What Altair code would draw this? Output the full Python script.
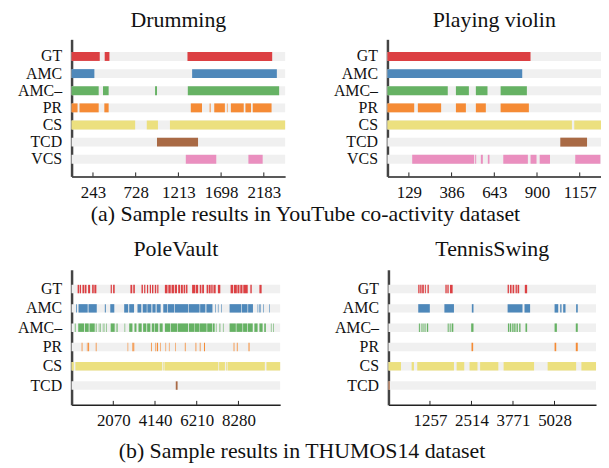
import altair as alt
import pandas as pd

FONT = "Liberation Serif"

COLORS = {"GT": "#dc4043", "AMC": "#4e88ba", "AMC–": "#66b264", "PR": "#f58b35",
          "CS": "#ece07f", "TCD": "#a96a45", "VCS": "#ea8fbf"}

# ---------------- (a) YouTube co-activity ----------------
rows_a = ["GT", "AMC", "AMC–", "PR", "CS", "TCD", "VCS"]

drum_total = 2425
drum_ticks = [243, 728, 1213, 1698, 2183]
drum_GT = [[0, 320], [376, 430], [1316, 2278]]
drum_AMC = [[0, 259], [1369, 2331]]
drum_AMCm = [[0, 308], [357, 421], [948, 970], [1320, 2357]]
drum_PR = [[0, 68], [90, 308], [372, 421], [1354, 1481], [1568, 1579], [1620, 1741],
           [1764, 1771], [1809, 1955], [1974, 2038], [2057, 2271]]
drum_CS = [[0, 722], [854, 981], [1117, 2425]]
drum_TCD = [[970, 1436]]
drum_VCS = [[1297, 1643], [2008, 2170]]

violin_total = 1285
violin_ticks = [129, 386, 643, 900, 1157]
violin_GT = [[0, 861]]
violin_AMC = [[0, 811]]
violin_AMCm = [[0, 363], [412, 490], [532, 602], [681, 839]]
violin_PR = [[0, 161], [183, 323], [412, 472], [532, 592], [681, 851]]
violin_CS = [[0, 1110], [1124, 1285]]
violin_TCD = [[1040, 1201]]
violin_VCS = [[149, 522], [528, 534], [562, 574], [604, 614], [697, 845], [861, 897],
              [916, 978], [1130, 1281]]

# ---------------- (b) THUMOS14 ----------------
rows_b = ["GT", "AMC", "AMC–", "PR", "CS", "TCD"]

pole_total = 10350
pole_ticks = [2070, 4140, 6210, 8280]
pole_GT = [[300, 380], [410, 470], [540, 620], [650, 740], [820, 920], [1020, 1100],
           [1130, 1230], [1940, 2000], [2060, 2140], [2920, 3010], [3060, 3140],
           [3470, 3540], [3600, 3660], [3740, 3800], [3880, 3940], [3990, 4060],
           [4130, 4200], [4250, 4310], [4630, 4760], [4800, 4920], [4960, 5080],
           [5120, 5230], [5290, 5380], [5420, 5520], [5560, 5640], [5680, 5750],
           [5980, 6140], [6170, 6280], [6360, 6440], [6480, 6570], [6700, 6770],
           [6800, 6900], [6930, 7000], [7040, 7150], [7260, 7380], [7890, 8020],
           [8060, 8200], [8230, 8330], [8370, 8480], [8520, 8740], [8870, 8940],
           [9320, 9430]]
pole_AMC = [[230, 270], [345, 800], [840, 1250], [1650, 1700], [1920, 2120], [2610, 2810],
            [2860, 3100], [3270, 3460], [3530, 3730], [3760, 3960], [4010, 4170],
            [4220, 4420], [4550, 4740], [4770, 5090], [5120, 5780], [5810, 6350],
            [6380, 6640], [6690, 6990], [7130, 7160], [7260, 7290], [7430, 7460],
            [7840, 8410], [8440, 8730], [8760, 9000], [9230, 9260], [9300, 9330],
            [9370, 9400], [9500, 9530], [9810, 9840]]
pole_AMCm = [[160, 200], [330, 620], [660, 850], [890, 1150], [1200, 1240], [1350, 1380],
             [1420, 1450], [1550, 1580], [1640, 1660], [1720, 1750], [1940, 2140],
             [2200, 2230], [2270, 2300], [2630, 2660], [2860, 3020], [3120, 3220],
             [3320, 3480], [3550, 3710], [3750, 3910], [3980, 4110], [4140, 4300],
             [4370, 4520], [4630, 4900], [4930, 5230], [5260, 5780], [5820, 6080],
             [6100, 6350], [6370, 6700], [6730, 6980], [7010, 7100], [7160, 7190],
             [7340, 7380], [7510, 7540], [7840, 8150], [8180, 8480], [8510, 8720],
             [8750, 8990], [9070, 9230], [9320, 9480], [9560, 9640], [9890, 9920],
             [10000, 10030]]
pole_PR = [[500, 540], [760, 790], [820, 870], [1200, 1240], [2780, 2810], [3000, 3030],
           [3060, 3110], [3940, 3980], [4160, 4200], [4240, 4290], [4400, 4430],
           [4660, 4690], [4830, 4860], [5150, 5180], [5620, 5660], [6150, 6190],
           [6360, 6400], [6570, 6620], [8040, 8080], [8200, 8240], [8780, 8830]]
pole_CS = [[0, 110], [190, 4490], [4530, 4570], [4610, 7280], [7320, 7610], [7660, 7700],
           [7740, 9590], [9670, 10350]]
pole_TCD = [[5170, 5260]]

tennis_total = 6285
tennis_ticks = [1257, 2514, 3771, 5028]
tennis_GT = [[902, 942], [962, 1002], [1022, 1072], [1103, 1133], [1183, 1223],
             [1724, 1764], [1784, 1824], [1864, 1944], [3608, 3648], [3678, 3728],
             [3758, 3808], [3848, 3888], [3908, 3958], [4129, 4199]]
tennis_AMC = [[902, 1253], [1694, 1984], [2525, 2575], [3608, 4059], [4119, 4289],
              [5030, 5140], [5200, 5240], [5290, 5361], [5682, 5732]]
tennis_AMCm = [[922, 952], [982, 1002], [1032, 1062], [1093, 1123], [1163, 1203],
               [1794, 1824], [1854, 1884], [1914, 1964], [2505, 2575], [3618, 3658],
               [3678, 3718], [3748, 3788], [3808, 3848], [3878, 3918], [3958, 3998],
               [4149, 4199], [5030, 5100], [5672, 5732]]
tennis_PR = [[2515, 2565], [5030, 5080], [5672, 5732]]
tennis_CS = [[0, 381], [702, 772], [872, 1984], [2064, 2295], [2455, 2696], [2776, 3327],
             [3487, 4409], [4820, 5682], [5842, 6285]]
tennis_TCD = [[0, 40]]

caption_a = "(a) Sample results in YouTube co-activity dataset"
caption_b = "(b) Sample results in THUMOS14 dataset"


def panel(title, rows, segs, total, ticks, w, h, extent, barsize, toff):
    recs = []
    for r, lst in zip(rows, segs):
        for s, e in lst:
            recs.append({"row": r, "start": s, "end": e})
    df = pd.DataFrame(recs)
    bg = pd.DataFrame({"row": rows, "start": [0] * len(rows), "end": [total] * len(rows)})
    tk = pd.DataFrame({"start": ticks})

    xs = alt.Scale(domain=[0, total], nice=False, zero=False)
    ys = alt.Scale(domain=rows, paddingInner=0, paddingOuter=0.5)
    xaxis = alt.Axis(values=ticks, ticks=False, grid=False, title=None, format="d",
                     labelFont=FONT, labelFontSize=17, labelColor="#111",
                     labelPadding=8, labelFlush=False,
                     domainColor="#222", domainWidth=1.5)
    yaxis = alt.Axis(ticks=False, grid=False, title=None,
                     labelFont=FONT, labelFontSize=16, labelColor="#111",
                     labelPadding=10, domainColor="#444", domainWidth=2.5,
                     minExtent=extent, maxExtent=extent)

    back = alt.Chart(bg).mark_bar(size=barsize, color="#f0f0f0").encode(
        x=alt.X("start:Q", scale=xs, axis=xaxis),
        x2="end:Q",
        y=alt.Y("row:N", sort=rows, scale=ys, axis=yaxis),
    )
    bars = alt.Chart(df).mark_bar(size=barsize).encode(
        x=alt.X("start:Q", scale=xs, axis=xaxis),
        x2="end:Q",
        y=alt.Y("row:N", sort=rows, scale=ys, axis=yaxis),
        color=alt.Color("row:N", scale=alt.Scale(domain=rows, range=[COLORS[r] for r in rows]),
                        legend=None),
    )
    tmarks = alt.Chart(tk).mark_rule(color="#222", strokeWidth=1).encode(
        x=alt.X("start:Q", scale=xs, axis=xaxis),
        y=alt.value(h), y2=alt.value(h - 4),
    )
    return alt.layer(back, bars, tmarks).properties(
        width=w, height=h,
        title=alt.TitleParams(title, font=FONT, fontSize=22, fontWeight="normal",
                              color="#111", anchor="middle", offset=toff),
    )


p1 = panel("Drumming", rows_a,
           [drum_GT, drum_AMC, drum_AMCm, drum_PR, drum_CS, drum_TCD, drum_VCS],
           drum_total, drum_ticks, 215, 138, 62, 9, 7)
p2 = panel("Playing violin", rows_a,
           [violin_GT, violin_AMC, violin_AMCm, violin_PR, violin_CS, violin_TCD, violin_VCS],
           violin_total, violin_ticks, 215, 138, 62, 9, 7)
p3 = panel("PoleVault", rows_b,
           [pole_GT, pole_AMC, pole_AMCm, pole_PR, pole_CS, pole_TCD],
           pole_total, pole_ticks, 210, 136, 64, 8.5, 9)
p4 = panel("TennisSwing", rows_b,
           [tennis_GT, tennis_AMC, tennis_AMCm, tennis_PR, tennis_CS, tennis_TCD],
           tennis_total, tennis_ticks, 209, 136, 64, 8.5, 9)

cap_style = dict(font=FONT, fontSize=22, fontWeight="normal", color="#111",
                 anchor="middle", orient="bottom")
row_a = alt.hconcat(p1, p2, spacing=41).properties(
    title=alt.TitleParams(caption_a, offset=4, **cap_style))
row_b = alt.hconcat(p3, p4, spacing=45).properties(
    title=alt.TitleParams(caption_b, offset=13, **cap_style))

chart = alt.vconcat(row_a, row_b, spacing=13).properties(padding=0).configure_view(stroke=None)

chart.save("out.html", embed_options={"renderer": "svg", "actions": False})
